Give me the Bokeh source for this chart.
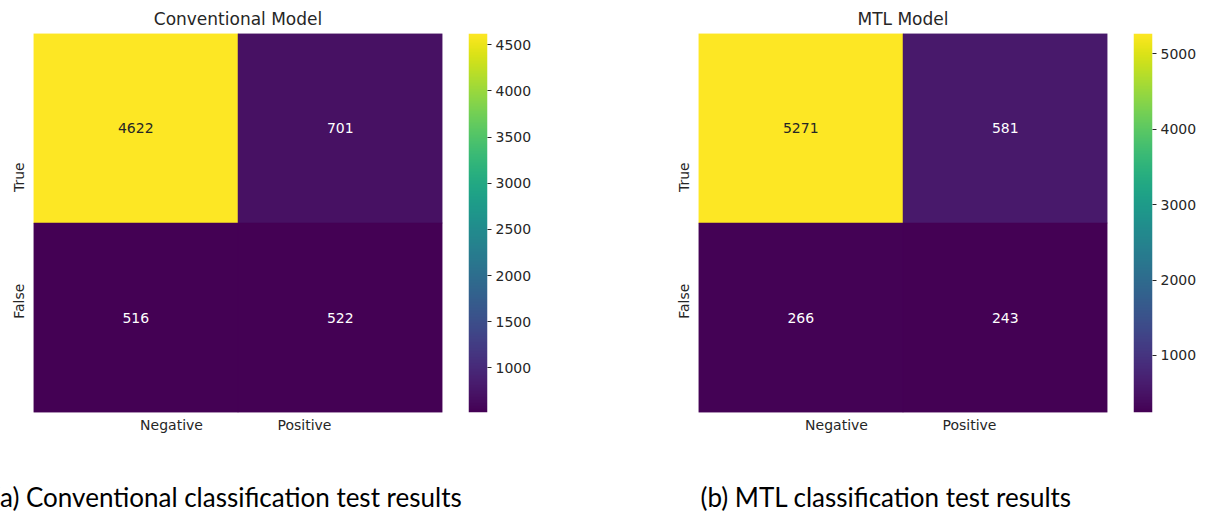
import math
import numpy as np
from bokeh.plotting import figure
from bokeh.models import (LinearColorMapper, FixedTicker, Title, ColumnDataSource, Range1d)
from bokeh.palettes import Viridis256
from bokeh.layouts import row, column
from bokeh.embed import file_html
from bokeh.resources import INLINE
from bokeh.core.properties import value

# ---------------- data ----------------
x_labels = ["Negative", "Positive"]
y_labels = ["True", "False"]          # top row first
conv_values = [[4622, 701],           # True  : Negative, Positive
               [516, 522]]            # False : Negative, Positive
mtl_values = [[5271, 581],
              [266, 243]]
titles = ["Conventional Model", "MTL Model"]
captions = ["(a) Conventional classification test results",
            "(b) MTL classification test results"]
conv_cbar_ticks = [1000, 1500, 2000, 2500, 3000, 3500, 4000, 4500]
mtl_cbar_ticks = [1000, 2000, 3000, 4000, 5000]

# tick positions used by the original figure (in cell units)
x_tick_pos = [0.675, 1.325]
y_tick_pos = [1.32, 0.68]

FONT = "DejaVu Sans"
TXT = "#262626"
FRAME_W, FRAME_H = 409, 379
TOP, BOTTOM = 33, 40


def lum_of(hexcol):
    r, g, b = (int(hexcol[i:i + 2], 16) / 255 for i in (1, 3, 5))
    def f(c):
        return c / 12.92 if c <= 0.03928 else ((c + 0.055) / 1.055) ** 2.4
    return 0.2126 * f(r) + 0.7152 * f(g) + 0.0722 * f(b)


def heatmap(values, title):
    flat = [v for r in values for v in r]
    vmin, vmax = min(flat), max(flat)
    mapper = LinearColorMapper(palette=Viridis256, low=vmin, high=vmax)
    xs, ys, vs, tc = [], [], [], []
    for i, r in enumerate(values):
        for j, v in enumerate(r):
            xs.append(j + 0.5)
            ys.append(len(values) - 0.5 - i)
            vs.append(v)
            idx = int(round((v - vmin) / (vmax - vmin) * 255))
            tc.append(TXT if lum_of(Viridis256[idx]) > 0.408 else "#ffffff")
    src = ColumnDataSource(dict(x=xs, y=ys, v=vs, t=[str(v) for v in vs], tc=tc))
    p = figure(frame_width=FRAME_W, frame_height=FRAME_H,
               x_range=Range1d(0, 2), y_range=Range1d(0, 2),
               min_border_left=33, min_border_right=26,
               min_border_top=TOP, min_border_bottom=BOTTOM,
               output_backend="svg", toolbar_location=None, tools="")
    p.rect(x="x", y="y", width=1, height=1, source=src,
           fill_color={"field": "v", "transform": mapper},
           line_color={"field": "v", "transform": mapper}, line_width=0.5)
    p.text(x="x", y="y", text="t", source=src, text_align="center",
           text_baseline="middle", text_font=value(FONT),
           text_font_size="14px", text_color="tc")
    p.grid.visible = False
    p.outline_line_color = None
    for ax in (p.xaxis[0], p.yaxis[0]):
        ax.axis_line_color = None
        ax.major_tick_in = 0
        ax.major_tick_out = 0
        ax.minor_tick_in = 0
        ax.minor_tick_out = 0
        ax.major_label_text_font = FONT
        ax.major_label_text_font_size = "14px"
        ax.major_label_text_color = TXT
    p.xaxis.ticker = FixedTicker(ticks=x_tick_pos)
    p.xaxis.major_label_overrides = {k: l for k, l in zip(x_tick_pos, x_labels)}
    p.xaxis.major_label_standoff = 4
    p.yaxis.ticker = FixedTicker(ticks=y_tick_pos)
    p.yaxis.major_label_overrides = {k: l for k, l in zip(y_tick_pos, y_labels)}
    p.yaxis.major_label_orientation = math.pi / 2
    p.yaxis.major_label_standoff = 14
    p.title = Title(text=title, align="center", text_font=FONT,
                    text_font_size="17px", text_font_style="normal",
                    text_color=TXT, standoff=10)
    return p, mapper, vmin, vmax


def colorbar(mapper, vmin, vmax, ticks, right_border):
    c = figure(frame_width=19, frame_height=FRAME_H,
               x_range=Range1d(0, 1), y_range=Range1d(vmin, vmax),
               min_border_left=0, min_border_right=right_border,
               min_border_top=TOP, min_border_bottom=BOTTOM,
               y_axis_location="right", x_axis_location=None,
               output_backend="svg", toolbar_location=None, tools="")
    grad = np.linspace(vmin, vmax, 256).reshape(256, 1)
    c.image(image=[grad], x=0, y=vmin, dw=1, dh=vmax - vmin, color_mapper=mapper)
    c.grid.visible = False
    c.outline_line_color = None
    ax = c.yaxis[0]
    ax.ticker = FixedTicker(ticks=ticks)
    ax.axis_line_color = None
    ax.major_tick_in = 0
    ax.major_tick_out = 4
    ax.major_tick_line_color = TXT
    ax.minor_tick_in = 0
    ax.minor_tick_out = 0
    ax.major_label_standoff = 4
    ax.major_label_text_font = FONT
    ax.major_label_text_font_size = "14px"
    ax.major_label_text_color = TXT
    return c


def caption_fig(text, frame_w, right_border, dx):
    f = figure(frame_width=frame_w, frame_height=1,
               min_border_left=33, min_border_right=right_border,
               min_border_top=60, min_border_bottom=0,
               x_axis_location=None, y_axis_location=None,
               output_backend="svg", toolbar_location=None, tools="")
    f.grid.visible = False
    f.outline_line_color = None
    f.title = Title(text=text, align="left", offset=dx,
                    text_font="Lato", text_font_size="26px",
                    text_font_style="normal", text_color="#000000",
                    standoff=0)
    return f


p1, m1, lo1, hi1 = heatmap(conv_values, titles[0])
c1 = colorbar(m1, lo1, hi1, conv_cbar_ticks, 178)
p2, m2, lo2, hi2 = heatmap(mtl_values, titles[1])
c2 = colorbar(m2, lo2, hi2, mtl_cbar_ticks, 56)
cap1 = caption_fig(captions[0], 600, 32, -40)
cap2 = caption_fig(captions[1], 480, 30, 2)

layout = column(row(p1, c1, p2, c2, spacing=0), row(cap1, cap2, spacing=0), spacing=0)
open("out.html", "w").write(file_html(layout, INLINE))
